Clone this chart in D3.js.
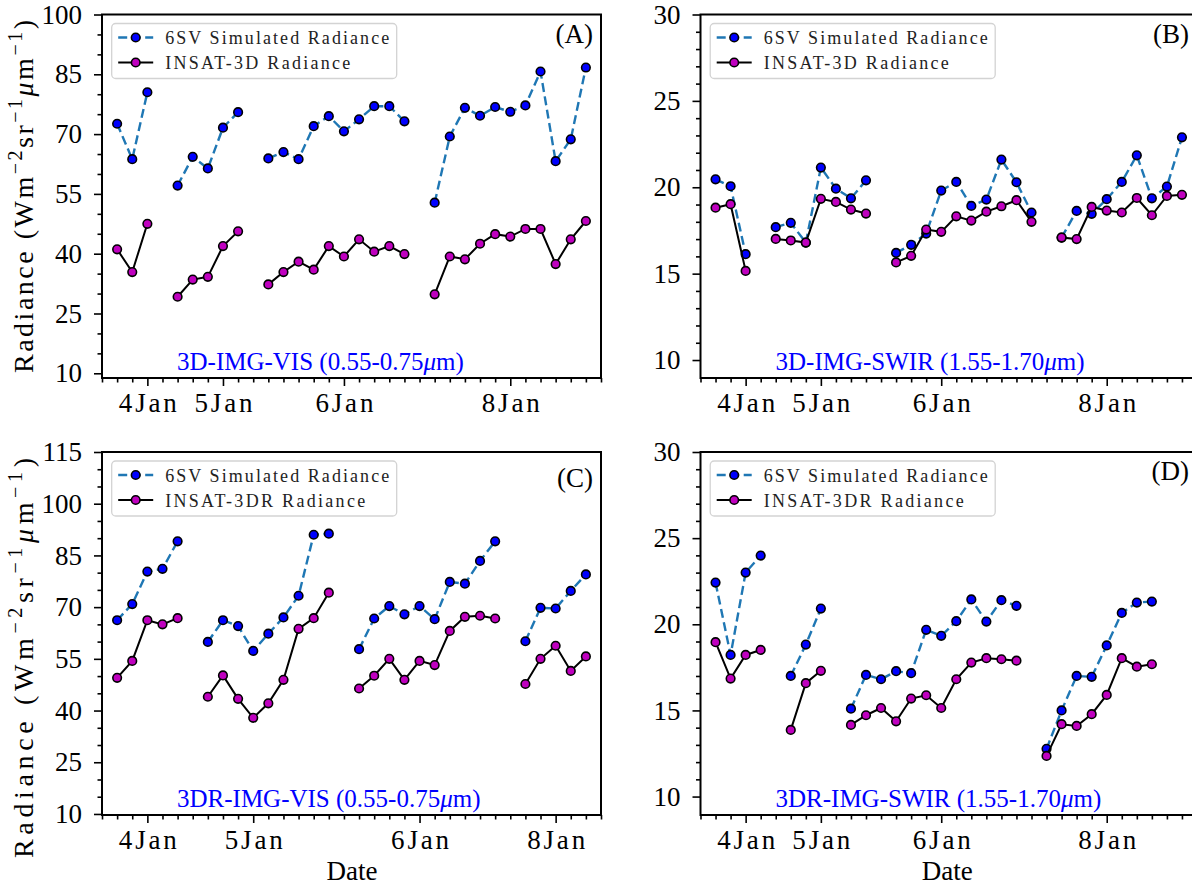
<!DOCTYPE html>
<html>
<head>
<meta charset="utf-8">
<script src="https://cdn.jsdelivr.net/npm/d3@7"></script>
<style>
  body { margin: 0; background: #fff; }
  svg { display: block; }
  text { font-family: "Liberation Serif", "Times New Roman", serif; }
</style>
</head>
<body>
<svg id="fig" width="1192" height="886"></svg>
<script>
// x positions are slot indices 0..33, null = no observation
const dateLabels = ['4Jan', '5Jan', '6Jan', '8Jan'];
const dateTicksABD = [3, 8, 16, 27];
const dateTicksC = [3, 10, 21, 30];

const simA = [null, 72.6, 63.7, 80.5, null, 57.1, 64.3, 61.4, 71.6, 75.5, null,
  63.9, 65.5, 63.7, 72.0, 74.5, 70.7, 73.7, 77.0, 77.0, 73.2, null,
  52.8, 69.4, 76.6, 74.6, 76.8, 75.6, 77.2, 85.7, 63.2, 68.7, 86.7];
const insA = [null, 41.1, 35.4, 47.5, null, 29.2, 33.5, 34.2, 41.9, 45.6, null,
  32.3, 35.4, 38.0, 36.0, 41.9, 39.3, 43.6, 40.5, 41.9, 39.9, null,
  29.8, 39.3, 38.6, 42.5, 44.9, 44.3, 46.2, 46.2, 37.4, 43.6, 48.2];

const simB = [null, 20.46, 20.06, 16.13, null, 17.69, 17.94, 16.8, 21.14, 19.92, 19.36, 20.40, null,
  16.2, 16.67, 17.32, 19.81, 20.31, 18.92, 19.29, 21.6, 20.29, 18.54, null,
  17.09, 18.63, 18.46, 19.31, 20.31, 21.85, 19.36, 20.04, 22.89];
const insB = [null, 18.82, 19.02, 15.16, null, 17.01, 16.92, 16.80, 19.33, 19.15, 18.71, 18.48, null,
  15.65, 16.03, 17.55, 17.42, 18.32, 18.07, 18.59, 18.90, 19.25, 18.0, null,
  17.09, 17.0, 18.86, 18.65, 18.54, 19.38, 18.38, 19.5, 19.56];

const simC = [null, 66.2, 70.9, 80.3, 81.1, 89.1, null,
  59.9, 66.2, 64.5, 57.3, 62.3, 67.0, 73.3, 91.0, 91.3, null,
  57.8, 66.7, 70.3, 67.9, 70.3, 66.5, 77.3, 76.8, 83.4, 89.1, null,
  60.1, 69.8, 69.6, 74.7, 79.5];
const insC = [null, 49.5, 54.4, 66.2, 65.0, 66.8, null,
  44.0, 50.2, 43.4, 37.9, 42.1, 48.9, 63.7, 66.8, 74.2, null,
  46.4, 50.1, 55.0, 48.9, 54.4, 53.2, 63.1, 67.2, 67.5, 66.7, null,
  47.7, 55.0, 58.8, 51.5, 55.7];

const simD = [null, 22.42, 18.22, 23.0, 23.99, null, 17.0, 18.82, 20.91, null,
  15.1, 17.06, 16.81, 17.28, 17.16, 19.68, 19.33, 20.18, 21.44, 20.16, 21.4, 21.07, null,
  12.77, 15.0, 17.0, 16.95, 18.77, 20.66, 21.26, 21.32];
const insD = [null, 18.96, 16.85, 18.22, 18.51, null, 13.87, 16.58, 17.30, null,
  14.16, 14.72, 15.14, 14.37, 15.69, 15.88, 15.14, 16.81, 17.78, 18.03, 17.97, 17.89, null,
  12.36, 14.2, 14.1, 14.78, 15.9, 18.03, 17.54, 17.68];

const svg = d3.select('#fig');

const panels = [
  { sim: simA, ins: insA, ticks: dateTicksABD, left: 102, right: 601, top: 14.5, bottom: 378,
    yDomain: [8.82, 100], yMajor: d3.range(10, 101, 15), yMinor: d3.range(10, 101, 5),
    sat: 'INSAT-3D Radiance', band: ['3D-IMG-VIS (0.55-0.75', 'm)'], tag: '(A)', tagY: 43,
    ylabel: true, ylabelLen: 353, xlabel: false },
  { sim: simB, ins: insB, ticks: dateTicksABD, left: 700.5, right: 1197, top: 14.5, bottom: 378,
    yDomain: [8.96, 30], yMajor: d3.range(10, 31, 5), yMinor: d3.range(10, 31, 1),
    sat: 'INSAT-3D Radiance', band: ['3D-IMG-SWIR (1.55-1.70', 'm)'], tag: '(B)', tagY: 43,
    ylabel: false, xlabel: false },
  { sim: simC, ins: insC, ticks: dateTicksC, left: 102, right: 601, top: 452, bottom: 815,
    yDomain: [9.7, 115], yMajor: d3.range(10, 116, 15), yMinor: d3.range(10, 116, 5),
    sat: 'INSAT-3DR Radiance', band: ['3DR-IMG-VIS (0.55-0.75', 'm)'], tag: '(C)', tagY: 487,
    ylabel: true, ylabelLen: 400, xlabel: true },
  { sim: simD, ins: insD, ticks: dateTicksABD, left: 700.5, right: 1197, top: 452, bottom: 815,
    yDomain: [8.93, 30], yMajor: d3.range(10, 31, 5), yMinor: d3.range(10, 31, 1),
    sat: 'INSAT-3DR Radiance', band: ['3DR-IMG-SWIR (1.55-1.70', 'm)'], tag: '(D)', tagY: 480,
    ylabel: false, xlabel: true }
];

function styleAxis(sel) {
  sel.select('.domain').remove();
  sel.selectAll('.tick line').attr('stroke', '#000').attr('stroke-width', 1.6);
  sel.selectAll('.tick text').attr('fill', '#000').style('font-size', '27px')
    .style('font-family', '"Liberation Serif", serif');
}

function drawPanel(p) {
  const x = d3.scaleLinear().domain([0, 33]).range([p.left, p.right]);
  const y = d3.scaleLinear().domain(p.yDomain).range([p.bottom, p.top]);
  const g = svg.append('g');

  // x axis
  g.append('g').attr('transform', 'translate(0,' + p.bottom + ')')
    .call(d3.axisBottom(x).tickValues(d3.range(0, 34).filter(i => !p.ticks.includes(i)))
      .tickSize(4.5).tickFormat(''))
    .call(styleAxis);
  const xa = g.append('g').attr('transform', 'translate(0,' + p.bottom + ')')
    .call(d3.axisBottom(x).tickValues(p.ticks).tickSize(8).tickFormat((d, i) => dateLabels[i]))
    .call(styleAxis);
  xa.selectAll('.tick text').attr('y', 34).attr('dy', null).attr('textLength', 58);

  // y axis
  g.append('g').attr('transform', 'translate(' + p.left + ',0)')
    .call(d3.axisLeft(y).tickValues(p.yMinor.filter(v => !p.yMajor.includes(v)))
      .tickSize(4.5).tickFormat(''))
    .call(styleAxis);
  g.append('g').attr('transform', 'translate(' + p.left + ',0)')
    .call(d3.axisLeft(y).tickValues(p.yMajor).tickSize(8).tickPadding(12))
    .call(styleAxis);

  // spines
  g.append('rect')
    .attr('x', p.left).attr('y', p.top)
    .attr('width', p.right - p.left).attr('height', p.bottom - p.top)
    .attr('fill', 'none').attr('stroke', '#000').attr('stroke-width', 2);

  const line = d3.line()
    .defined(d => d.v != null)
    .x(d => x(d.i))
    .y(d => y(d.v));

  function series(arr, color, dash, fill) {
    const pts = arr.map((v, i) => ({ i: i, v: v }));
    g.append('path').datum(pts)
      .attr('d', line)
      .attr('fill', 'none')
      .attr('stroke', color)
      .attr('stroke-width', dash ? 2.4 : 2)
      .attr('stroke-dasharray', dash ? '9,4.5' : null);
    g.append('g').selectAll('circle')
      .data(pts.filter(d => d.v != null))
      .enter().append('circle')
      .attr('cx', d => x(d.i))
      .attr('cy', d => y(d.v))
      .attr('r', 4.3)
      .attr('fill', fill)
      .attr('stroke', '#000')
      .attr('stroke-width', 1.6);
  }
  series(p.sim, '#1f77b4', true, '#0000ff');
  series(p.ins, '#000', false, '#bf00bf');

  // legend
  const lg = g.append('g').attr('transform', 'translate(' + (p.left + 9.7) + ',' + (p.top + 9) + ')');
  lg.append('rect').attr('width', 285).attr('height', 55).attr('rx', 4)
    .attr('fill', '#fff').attr('fill-opacity', 0.8)
    .attr('stroke', '#d3d3d3').attr('stroke-width', 1.3);
  const items = [
    { label: '6SV Simulated Radiance', color: '#1f77b4', dash: true, fill: '#0000ff', len: 224 },
    { label: p.sat, color: '#000', dash: false, fill: '#bf00bf', len: p.sat.length > 17 ? 200 : 185 }
  ];
  items.forEach((it, k) => {
    const cy = 14 + k * 25;
    lg.append('line').attr('x1', 6.5).attr('x2', 41.5).attr('y1', cy).attr('y2', cy)
      .attr('stroke', it.color).attr('stroke-width', it.dash ? 2.4 : 2)
      .attr('stroke-dasharray', it.dash ? '9,4.5' : null);
    lg.append('circle').attr('cx', 24).attr('cy', cy).attr('r', 4.3)
      .attr('fill', it.fill).attr('stroke', '#000').attr('stroke-width', 1.6);
    lg.append('text').attr('x', 53.5).attr('y', cy + 6.5)
      .attr('textLength', it.len).attr('lengthAdjust', 'spacing')
      .style('font-size', '18px').attr('fill', '#222').text(it.label);
  });

  // panel tag
  g.append('text').attr('x', p.right - 8).attr('y', p.tagY)
    .attr('text-anchor', 'end').style('font-size', '27px').text(p.tag);

  // band annotation
  const bt = g.append('text').attr('x', p.left + 75).attr('y', p.bottom - 8)
    .attr('fill', '#0000ff').style('font-size', '25px');
  bt.append('tspan').text(p.band[0]);
  bt.append('tspan').style('font-style', 'italic').text('\u03bc');
  bt.append('tspan').text(p.band[1]);

  if (p.ylabel) {
    const cy = p.top < 100 ? 196.5 : 658;
    const yl = g.append('text')
      .attr('transform', 'translate(33,' + cy + ') rotate(-90)')
      .attr('text-anchor', 'middle').style('font-size', '28px')
      .attr('textLength', p.ylabelLen).attr('lengthAdjust', 'spacing');
    yl.append('tspan').text('Radiance (Wm');
    yl.append('tspan').attr('dy', -11).style('font-size', '20px').text('\u22122');
    yl.append('tspan').attr('dy', 11).text('sr');
    yl.append('tspan').attr('dy', -11).style('font-size', '20px').text('\u22121');
    yl.append('tspan').attr('dy', 11).style('font-style', 'italic').text('\u03bc');
    yl.append('tspan').text('m');
    yl.append('tspan').attr('dy', -11).style('font-size', '20px').text('\u22121');
    yl.append('tspan').attr('dy', 11).text(')');
  }

  if (p.xlabel) {
    g.append('text').attr('x', (p.left + Math.min(p.right, 1193)) / 2 + 0.5).attr('y', 879.5)
      .attr('text-anchor', 'middle').style('font-size', '27px').text('Date');
  }
}

panels.forEach(drawPanel);
</script>
</body>
</html>
